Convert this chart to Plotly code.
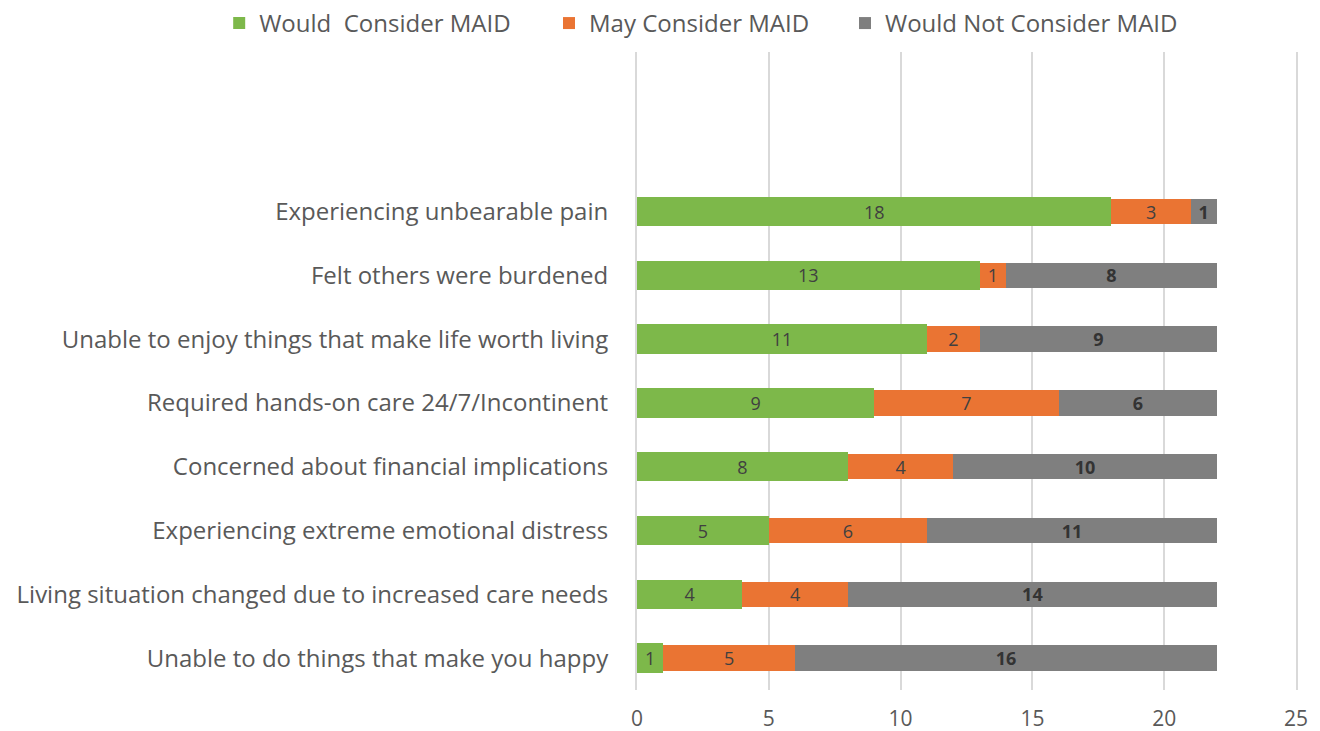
import plotly.graph_objects as go

categories = [
    "Unable to do things that make you happy",
    "Living situation changed due to increased care needs",
    "Experiencing extreme emotional distress",
    "Concerned about financial implications",
    "Required hands-on care 24/7/Incontinent",
    "Unable to enjoy things that make life worth living",
    "Felt others were burdened",
    "Experiencing unbearable pain",
]
would = [1, 4, 5, 8, 9, 11, 13, 18]
may = [5, 4, 6, 4, 7, 2, 1, 3]
would_not = [16, 14, 11, 10, 6, 9, 8, 1]
x_ticks = [0, 5, 10, 15, 20, 25]

FONT = "Open Sans"
fig = go.Figure()
series = [
    ("Would  Consider MAID", would, "#7db84a", 0.46, "%{x}", "#404040", "legend", -0.634),
    ("May Consider MAID", may, "#ea7433", 0.40, "%{x}", "#404040", "legend2", -0.1335),
    ("Would Not Consider MAID", would_not, "#7f7f7f", 0.40, "<b>%{x}</b>", "#333333", "legend3", 0.3156),
]
legend_layout = {}
for name, vals, color, w, tmpl, tc, leg, lx in series:
    fig.add_trace(go.Bar(
        y=categories, x=vals, name=name, orientation="h",
        marker=dict(color=color, line=dict(width=0)),
        width=w, texttemplate=tmpl, textposition="inside", textangle=0,
        insidetextanchor="middle", constraintext="none",
        textfont=dict(family=FONT, size=18, color=tc),
        legend=leg, showlegend=True,
    ))
    legend_layout[leg] = dict(orientation="h", xref="paper", yref="paper",
                              x=lx, xanchor="left", y=1.08, yanchor="top",
                              font=dict(size=24, color="#595959"),
                              itemwidth=30, bgcolor="rgba(0,0,0,0)")

fig.update_layout(
    barmode="stack",
    showlegend=True,
    width=1320, height=731,
    paper_bgcolor="white", plot_bgcolor="white",
    margin=dict(l=637, r=24, t=52, b=41, autoexpand=False),
    font=dict(family=FONT, color="#595959", size=24),
    xaxis=dict(range=[0, 25], tickvals=x_ticks, showgrid=True,
               gridcolor="#d9d9d9", gridwidth=2, zeroline=False,
               ticks="outside", ticklen=10, tickcolor="rgba(0,0,0,0)",
               tickfont=dict(size=21, color="#595959"), showline=False),
    yaxis=dict(type="category", categoryorder="array", categoryarray=categories,
               range=[-0.5, 9.5], showgrid=False, zeroline=False,
               showline=True, mirror=True, linecolor="#d9d9d9", linewidth=2,
               ticks="", ticklabelstandoff=22,
               tickfont=dict(size=24, color="#595959")),
    **legend_layout,
)
fig.write_html("out.html", config={"displayModeBar": False},
               post_script="document.body.style.margin='0px';")
